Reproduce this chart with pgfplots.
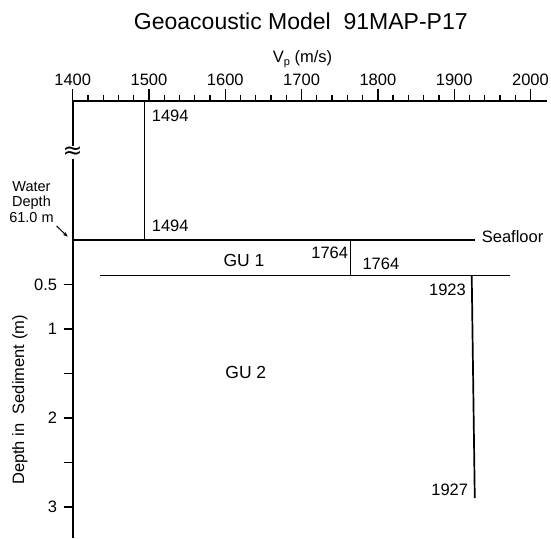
\documentclass[border=0pt]{standalone}
\usepackage{fontspec}
\setmainfont{Liberation Sans}
\newfontfamily\symfont{DejaVu Sans}
\usepackage{pgfplots}
\pgfplotsset{compat=1.18}
\usetikzlibrary{arrows.meta}
\newcommand\lab{\fontsize{16.5}{19}\selectfont}
\begin{document}
\begin{tikzpicture}
\begin{axis}[
    scale only axis,
    width=473.8pt, height=437pt,
    xmin=1400, xmax=2021,
    ymin=-3.348, ymax=1.562,
    axis x line*=top, axis y line*=left,
    axis line style={line width=2pt, -},
    xtick={1400,1500,...,2000},
    minor x tick num=4,
    ytick={-0.5,-1,-1.5,-2,-2.5,-3},
    yticklabels={0.5,1,,2,,3},
    tick align=outside,
    major tick length=12pt, minor tick length=6pt,
    tick style={line width=1.3pt, black},
    ytick style={/pgfplots/major tick length=9pt},
    /pgf/number format/assume math mode=true,
    /pgf/number format/1000 sep={},
    ticklabel style={font=\fontsize{16.5}{19}\selectfont},
    clip=false,
]
% water column
\addplot[black, line width=1.7pt] coordinates {(1494,1.562) (1494,0)};
% seafloor
\addplot[black, line width=1.7pt] coordinates {(1400,0) (1927,0)};
% GU 1
\addplot[black, line width=1.7pt] coordinates {(1764,0) (1764,-0.40)};
\addplot[black, line width=1.7pt] coordinates {(1436,-0.40) (1973,-0.40)};
% GU 2
\addplot[black, line width=1.7pt] coordinates {(1923,-0.40) (1927,-2.90)};

\node[anchor=base west, inner sep=0, font=\lab] at (axis cs:1503.5,1.329) {1494};
\node[anchor=base west, inner sep=0, font=\lab] at (axis cs:1503.5,0.093) {1494};
\node[anchor=base, inner sep=0, font=\fontsize{17.5}{20}\selectfont] at (axis cs:1624.5,-0.30) {GU 1};
\node[anchor=base east, inner sep=0, font=\lab] at (axis cs:1761.2,-0.206) {1764};
\node[anchor=base west, inner sep=0, font=\lab] at (axis cs:1779.6,-0.329) {1764};
\node[anchor=base east, inner sep=0, font=\lab] at (axis cs:1915.5,-0.618) {1923};
\node[anchor=base, inner sep=0, font=\fontsize{17.5}{20}\selectfont] at (axis cs:1626.9,-1.554) {GU 2};
\node[anchor=base east, inner sep=0, font=\lab] at (axis cs:1918.5,-2.865) {1927};
\node[anchor=base west, inner sep=0, font=\lab] at (axis cs:1936,-0.03) {Seafloor};

\node[anchor=base, inner sep=0, font=\fontsize{23}{26}\selectfont] at (axis cs:1699,2.367) {Geoacoustic Model\ \ 91MAP-P17};
\node[anchor=base, inner sep=0, font=\fontsize{16.5}{19}\selectfont] at (axis cs:1701.3,1.994) {V\raisebox{-2.5pt}{\fontsize{11}{12}\selectfont p} (m/s)};
\node[anchor=base, inner sep=0, rotate=90, font=\lab] at (axis cs:1336.2,-1.798) {Depth in\ \ Sediment (m)};

\node[align=center, inner sep=0, font=\fontsize{14.5}{15.5}\selectfont] at (axis cs:1346,0.43) {Water\\Depth\\61.0 m};
\draw[-{Stealth[length=5pt,width=4pt]}, line width=1pt] (axis cs:1379,0.157) -- (axis cs:1393.4,0.037);

\coordinate (brk) at (axis cs:1400,0.983);
\coordinate (sw) at (rel axis cs:0,0);
\end{axis}
\node[fill=white, inner xsep=0pt, inner ysep=0.5pt] at (brk) {\scalebox{1.7}{\symfont\fontsize{14}{16}\selectfont ≈}};
\pgfresetboundingbox
\path (sw) ++(-72.7pt,0) rectangle ++(551pt,538pt);
\end{tikzpicture}
\end{document}
